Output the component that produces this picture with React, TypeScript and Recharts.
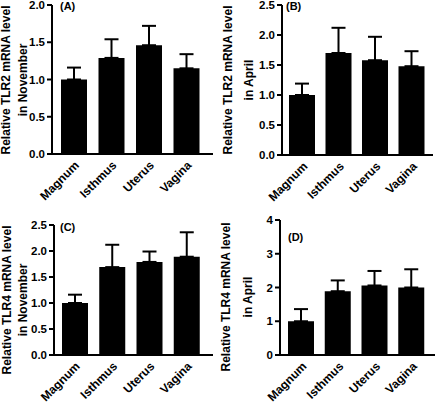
import { BarChart, Bar, XAxis, YAxis, ErrorBar } from 'recharts';

const tissues = ['Magnum', 'Isthmus', 'Uterus', 'Vagina'];

// means and upper SEM
const tlr2NovMean = [1.0, 1.29, 1.46, 1.15];
const tlr2NovErr = [0.16, 0.25, 0.26, 0.19];
const tlr2AprMean = [1.0, 1.7, 1.58, 1.48];
const tlr2AprErr = [0.19, 0.42, 0.39, 0.25];
const tlr4NovMean = [1.0, 1.69, 1.79, 1.89];
const tlr4NovErr = [0.16, 0.43, 0.2, 0.47];
const tlr4AprMean = [1.0, 1.89, 2.06, 2.0];
const tlr4AprErr = [0.36, 0.32, 0.43, 0.54];

const ticksA = [0, 0.5, 1, 1.5, 2];
const ticksBC = [0, 0.5, 1, 1.5, 2, 2.5];
const ticksD = [0, 1, 2, 3, 4];

const FONT = '"Liberation Sans", Arial, sans-serif';

const buildRows = (mean: number[], err: number[]) =>
  tissues.map((name, i) => ({ name, value: mean[i], err: [0, err[i]] }));

interface PanelProps {
  left: number;
  top: number;
  width: number;
  height: number;
  margin: { top: number; right: number; bottom: number; left: number };
  pad: { left: number; right: number };
  mean: number[];
  err: number[];
  ticks: number[];
  decimals: number;
}

function Panel({ left, top, width, height, margin, pad, mean, err, ticks, decimals }: PanelProps) {
  const yTick = { fontSize: 11.5, fontWeight: 700, fill: '#000', fontFamily: FONT };
  const xTick = { fontSize: 12, fontWeight: 700, fill: '#000', fontFamily: FONT };
  return (
    <div style={{ position: 'absolute', left, top }}>
      <BarChart width={width} height={height} data={buildRows(mean, err)} margin={margin} barSize={26}>
        <XAxis
          dataKey="name"
          interval={0}
          angle={-45}
          textAnchor="end"
          height={50}
          tickLine={false}
          tickSize={4}
          tickMargin={2}
          padding={pad}
          axisLine={{ stroke: '#000', strokeWidth: 2 }}
          tick={xTick}
        />
        <YAxis
          width={30}
          domain={[ticks[0], ticks[ticks.length - 1]]}
          ticks={ticks}
          interval={0}
          tickFormatter={(v: number) => v.toFixed(decimals)}
          tickSize={5}
          tickMargin={2}
          axisLine={{ stroke: '#000', strokeWidth: 2 }}
          tickLine={{ stroke: '#000', strokeWidth: 2 }}
          tick={yTick}
        />
        <Bar dataKey="value" fill="#000" isAnimationActive={false}>
          <ErrorBar dataKey="err" width={7} stroke="#000" strokeWidth={2} direction="y" />
        </Bar>
      </BarChart>
    </div>
  );
}

function YTitle({ x, y, text }: { x: number; y: number; text: string }) {
  return (
    <text
      transform={`translate(${x},${y}) rotate(-90)`}
      textAnchor="middle"
      fontSize={12}
      fontWeight={700}
      fontFamily={FONT}
      fill="#000"
    >
      {text}
    </text>
  );
}

function Tag({ x, y, text }: { x: number; y: number; text: string }) {
  return (
    <text x={x} y={y} fontSize={11} fontWeight={700} fontFamily={FONT} fill="#000">
      {text}
    </text>
  );
}

export default function App() {
  return (
    <div style={{ position: 'absolute', left: 0, top: 0, width: 437, height: 415, background: '#fff' }}>
      <Panel left={0} top={0} width={218} height={205}
        margin={{ top: 5, right: 5, bottom: 1, left: 22 }} pad={{ left: 3, right: 8 }}
        mean={tlr2NovMean} err={tlr2NovErr} ticks={ticksA} decimals={1} />
      <Panel left={218} top={0} width={219} height={205}
        margin={{ top: 5, right: 4, bottom: 0, left: 34 }} pad={{ left: 2, right: 3 }}
        mean={tlr2AprMean} err={tlr2AprErr} ticks={ticksBC} decimals={1} />
      <Panel left={0} top={205} width={218} height={210}
        margin={{ top: 20, right: 5, bottom: 10, left: 24 }} pad={{ left: 2, right: 8 }}
        mean={tlr4NovMean} err={tlr4NovErr} ticks={ticksBC} decimals={1} />
      <Panel left={218} top={205} width={219} height={210}
        margin={{ top: 15, right: 2, bottom: 10, left: 32 }} pad={{ left: 3, right: 5 }}
        mean={tlr4AprMean} err={tlr4AprErr} ticks={ticksD} decimals={0} />
      <svg width={437} height={415} style={{ position: 'absolute', left: 0, top: 0, pointerEvents: 'none' }}>
        <YTitle x={10} y={80} text="Relative TLR2 mRNA level" />
        <YTitle x={27} y={80} text="in November" />
        <YTitle x={232} y={80} text="Relative TLR2 mRNA level" />
        <YTitle x={252.5} y={80} text="in April" />
        <YTitle x={10.5} y={300} text="Relative TLR4 mRNA level" />
        <YTitle x={27} y={300} text="in November" />
        <YTitle x={230} y={297} text="Relative TLR4 mRNA level" />
        <YTitle x={252} y={297} text="in April" />
        <Tag x={60} y={10} text="(A)" />
        <Tag x={286} y={10} text="(B)" />
        <Tag x={60} y={231} text="(C)" />
        <Tag x={288} y={241} text="(D)" />
      </svg>
    </div>
  );
}
